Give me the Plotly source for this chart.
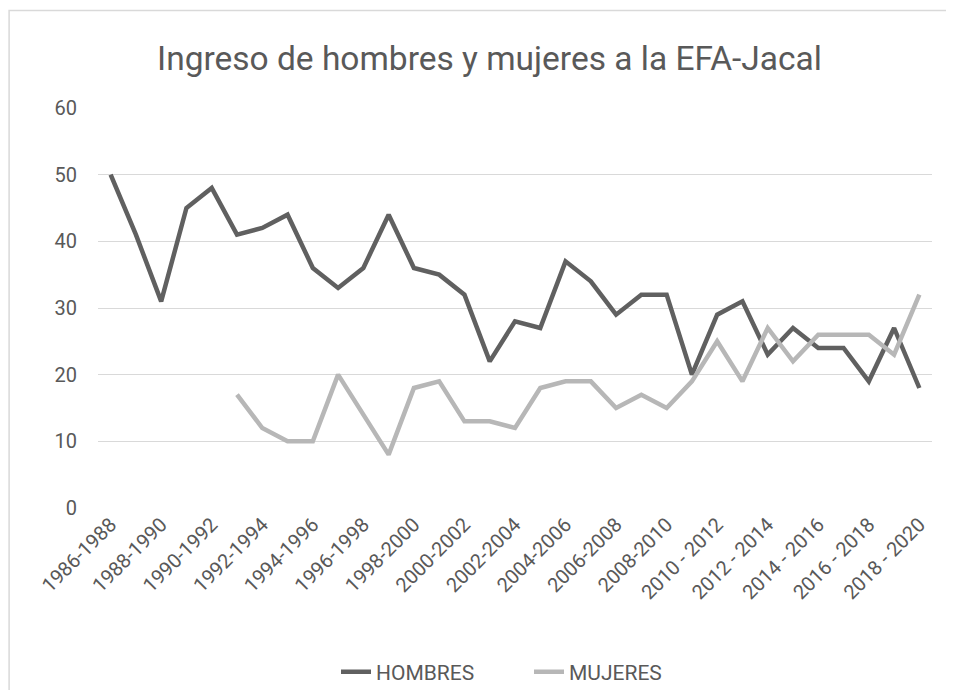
import plotly.graph_objects as go

# categories (33 overlapping 2-year periods)
periodos = [f"{a}-{a + 2}" for a in range(1986, 2010)] + [f"{a} - {a + 2}" for a in range(2010, 2019)]

hombres = [50, 41, 31, 45, 48, 41, 42, 44, 36, 33, 36, 44, 36, 35, 32, 22, 28,
           27, 37, 34, 29, 32, 32, 20, 29, 31, 23, 27, 24, 24, 19, 27, 18]
mujeres = [None, None, None, None, None, 17, 12, 10, 10, 20, 14, 8, 18, 19, 13, 13, 12,
           18, 19, 19, 15, 17, 15, 19, 25, 19, 27, 22, 26, 26, 26, 23, 32]

titulo = "Ingreso de hombres y mujeres a la EFA-Jacal"
texto = "#595959"

fig = go.Figure()
fig.add_trace(go.Scatter(x=periodos, y=hombres, name="HOMBRES", mode="lines",
                         line=dict(color="#606060", width=4.5)))
fig.add_trace(go.Scatter(x=periodos, y=mujeres, name="MUJERES", mode="lines",
                         line=dict(color="#b7b7b7", width=4.5)))

# page body has an 8px margin, so the figure is laid out smaller to fit the window
FW, FH = 938, 682
L, R, T, B = 89.5, 13.5, 100, 182
W, H = FW - L - R, FH - T - B

# outer chart border (only top and left edges are visible in the reference)
fig.add_shape(type="rect", xref="paper", yref="paper",
              x0=(0.5 - L) / W, x1=(FW + 30 - L) / W,
              y0=-(B + 30) / H, y1=1 + (T - 2.5) / H,
              line=dict(color="#d9d9d9", width=1.5), layer="below")

fig.update_layout(
    width=FW, height=FH,
    margin=dict(l=L, r=R, t=T, b=B, autoexpand=False),
    paper_bgcolor="white", plot_bgcolor="white",
    font=dict(family="Roboto, Open Sans, sans-serif", color=texto, size=20),
    title=dict(text=titulo, x=481.5 / FW, xanchor="center", xref="container",
               y=1 - 50 / FH, yanchor="middle",
               font=dict(size=33.5, color=texto)),
    showlegend=True,
    legend=dict(orientation="h", xref="container", yref="container",
                x=328 / FW, xanchor="left", y=1 - 664 / FH, yanchor="middle",
                entrywidth=148, entrywidthmode="pixels",
                font=dict(size=21, color=texto), traceorder="normal"),
    xaxis=dict(type="category", tickangle=-45, tickvals=periodos[::2],
               showgrid=False, showline=False, ticks="", tickfont=dict(size=20, color=texto),
               range=[-0.5, len(periodos) - 0.5]),
    yaxis=dict(range=[0, 60], dtick=10, showgrid=True, gridcolor="#d9d9d9", gridwidth=1,
               zeroline=False, showline=False, ticks="", tickfont=dict(size=20, color=texto),
               ticklabelstandoff=20),
)

fig.write_html("out.html")
